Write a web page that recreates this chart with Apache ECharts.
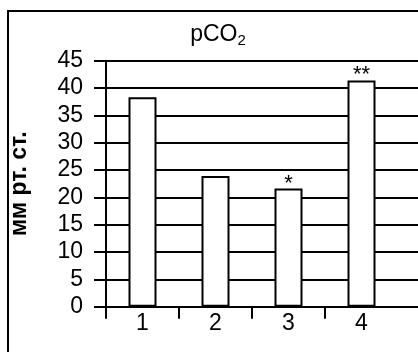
<!DOCTYPE html>
<html><head><meta charset="utf-8">
<script src="https://cdn.jsdelivr.net/npm/echarts@6/dist/echarts.min.js"></script>
<style>html,body{margin:0;padding:0;background:#fff;overflow:hidden}#c{width:418px;height:352px}</style>
</head><body><div id="c"></div>
<script>
var categories = ['1', '2', '3', '4', ''];
var values = [38.3, 23.9, 21.6, 41.4, null];
var marks = ['', '', '*', '**', ''];
var yTicks = [0, 5, 10, 15, 20, 25, 30, 35, 40, 45];

var chart = echarts.init(document.getElementById('c'), null, {renderer: 'canvas'});
var font = 'Liberation Sans, Arial, sans-serif';
chart.setOption({
  animation: false,
  backgroundColor: '#fff',
  title: {
    text: '{a|pCO}{b|2}',
    left: 213, top: 17, textAlign: 'center',
    textStyle: {
      fontWeight: 'normal',
      rich: {
        a: {fontFamily: font, fontSize: 23, fontWeight: 'normal', color: '#000'},
        b: {fontFamily: font, fontSize: 15, fontWeight: 'normal', color: '#000', verticalAlign: 'bottom', padding: [11, 0, 0, 0]}
      }
    }
  },
  graphic: [{
    type: 'rect', shape: {x: 8, y: 11, width: 600, height: 500},
    style: {fill: null, stroke: '#000', lineWidth: 2}, silent: true, z: 100
  }],
  grid: {left: 106, top: 60.7, bottom: 45.3, width: 365, containLabel: false, outerBoundsMode: 'none'},
  xAxis: {
    type: 'category', data: categories,
    axisLine: {lineStyle: {color: '#000', width: 2}},
    axisTick: {show: true, length: 12, lineStyle: {color: '#000', width: 2},
      interval: function (i) { return i < 4; }},
    axisLabel: {color: '#000', fontFamily: font, fontSize: 23, margin: 5}
  },
  yAxis: {
    type: 'value', min: yTicks[0], max: yTicks[yTicks.length - 1], interval: 5,
    name: 'мм рт. ст.', nameLocation: 'middle', nameGap: 75, nameRotate: 90,
    nameTextStyle: {color: '#000', fontFamily: font, fontSize: 23, fontWeight: 'bold'},
    axisLine: {show: true, lineStyle: {color: '#000', width: 2}},
    axisTick: {show: true, length: 12, lineStyle: {color: '#000', width: 2}},
    axisLabel: {color: '#000', fontFamily: font, fontSize: 23, margin: 23},
    splitLine: {show: true, lineStyle: {color: '#000', width: 2}}
  },
  series: [{
    type: 'bar', data: values, barWidth: 28,
    itemStyle: {color: '#fff', borderColor: '#000', borderWidth: 2},
    label: {show: true, position: 'top', distance: 0, offset: [0, 6], color: '#000', fontFamily: font, fontSize: 22,
      formatter: function (p) { return marks[p.dataIndex]; }}
  }]
});
</script></body></html>
